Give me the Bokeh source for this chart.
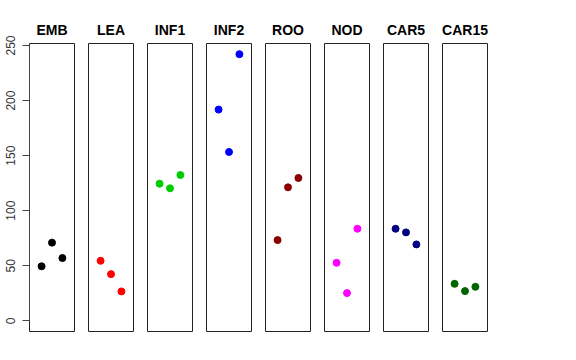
from bokeh.plotting import figure
from bokeh.layouts import row
from bokeh.models import Range1d, FixedTicker, ColumnDataSource
from bokeh.embed import file_html
from bokeh.resources import INLINE

# ---- data ----
tissues = ["EMB", "LEA", "INF1", "INF2", "ROO", "NOD", "CAR5", "CAR15"]
colors = ["#000000", "#FF0000", "#00CD00", "#0000FF", "#8B0000", "#FF00FF", "#000080", "#006400"]
replicate = [1, 2, 3]
emb = [49.5, 71.0, 57.0]
lea = [54.5, 42.4, 26.7]
inf1 = [124.5, 120.3, 132.4]
inf2 = [191.8, 153.3, 242.1]
roo = [73.3, 121.2, 129.7]
nod = [52.7, 25.2, 83.6]
car5 = [83.6, 80.3, 69.4]
car15 = [33.6, 27.0, 30.9]
y_ticks = [0, 50, 100, 150, 200, 250]

values = [emb, lea, inf1, inf2, roo, nod, car5, car15]

ymax = max(max(v) for v in values)
ymin = 0
pad = 0.04 * (ymax - ymin)

FONT = "Liberation Sans"
figs = []
for i, (name, col, vals) in enumerate(zip(tissues, colors, values)):
    first = i == 0
    w = 81 if first else 59
    p = figure(width=w, height=341, output_backend="svg", toolbar_location=None,
               x_range=Range1d(-0.16, 4.16), y_range=Range1d(ymin - pad, ymax + pad),
               x_axis_location=None, y_axis_location="left" if first else None,
               min_border_left=29 if first else 7, min_border_right=7,
               min_border_top=43, min_border_bottom=10,
               title=name)
    p.title.align = "center"
    p.title.text_font = FONT
    p.title.text_font_size = "14px"
    p.title.text_font_style = "bold"
    p.title.text_color = "black"
    p.title.standoff = 12
    p.grid.visible = False
    p.outline_line_color = "#222222"
    p.outline_line_width = 1
    p.background_fill_color = "white"
    p.border_fill_color = "white"
    src = ColumnDataSource(dict(x=replicate, y=vals))
    p.scatter("x", "y", source=src, size=7, color=col, line_color=col)
    if first:
        ax = p.yaxis[0]
        ax.ticker = FixedTicker(ticks=y_ticks)
        ax.bounds = (y_ticks[0], y_ticks[-1])
        ax.major_label_orientation = "vertical"
        ax.major_label_text_font = FONT
        ax.major_label_text_font_size = "12px"
        ax.major_label_text_color = "#333333"
        ax.major_label_standoff = 7
        ax.major_tick_in = 0
        ax.major_tick_out = 7
        ax.minor_tick_line_color = None
        ax.axis_line_color = "#444444"
        ax.major_tick_line_color = "#444444"
    figs.append(p)

layout = row(*figs, spacing=0)
open("out.html", "w").write(file_html(layout, INLINE))
